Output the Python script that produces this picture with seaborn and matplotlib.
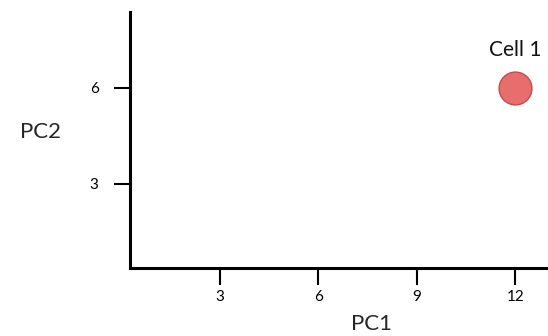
import matplotlib
matplotlib.use("Agg")
import matplotlib.pyplot as plt
import pandas as pd
import seaborn as sns

# data
cells = ["Cell 1"]
pc1 = [12]
pc2 = [6]
x_ticks = [3, 6, 9, 12]
y_ticks = [3, 6]

df = pd.DataFrame({"PC1": pc1, "PC2": pc2, "cell": cells})

sns.set_style("white")
plt.rcParams['font.family'] = ['Lato', 'DejaVu Sans']

fig = plt.figure(figsize=(5.48, 3.36), dpi=100)
ax = fig.add_axes([0.237, 0.2024, 0.763, 0.7619])

sns.scatterplot(data=df, x="PC1", y="PC2", ax=ax, s=560, color="#e86e6e",
                edgecolor="#c44c4c", linewidth=1, zorder=3, legend=False)

for i, row in df.iterrows():
    ax.annotate(row["cell"], (row["PC1"], row["PC2"]), xytext=(0, 27),
                textcoords="offset points", ha="center", va="center",
                fontsize=15, color="#111111")

ax.set_xlim(0.26, 13.0)
ax.set_ylim(0.375, 8.375)
ax.set_xticks(x_ticks)
ax.set_yticks(y_ticks)

sns.despine(ax=ax)
for side in ["left", "bottom"]:
    ax.spines[side].set_linewidth(2.2)
    ax.spines[side].set_color("black")

ax.tick_params(axis="x", direction="out", length=12, width=1.5, pad=4,
               labelsize=11, bottom=True, colors="black")
ax.tick_params(axis="y", direction="out", length=11.5, width=1.5, pad=11,
               labelsize=11, left=True, colors="black")

ax.set_xlabel("PC1", fontsize=16)
ax.set_ylabel("PC2", fontsize=16, rotation=0, ha="center", va="center")
ax.xaxis.set_label_coords(0.579, -0.18)
ax.yaxis.set_label_coords(-0.213, 0.531)

fig.savefig("out.png", dpi=100)
